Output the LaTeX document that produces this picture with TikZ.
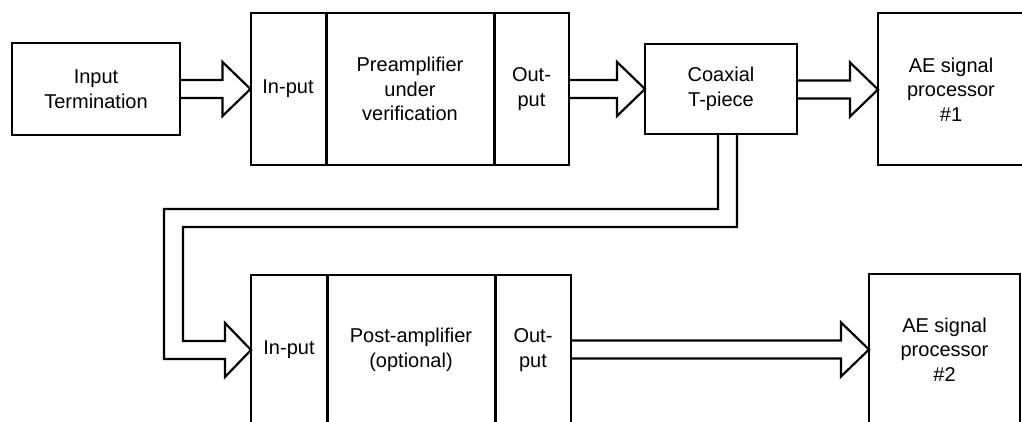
\documentclass[tikz,border=0pt]{standalone}
\usepackage{fontspec}
\setmainfont{Liberation Sans}
\usetikzlibrary{calc}
\tikzset{
  box/.style={draw, line width=2pt, inner sep=0pt, outer sep=0pt, align=center,
    font=\fontsize{20}{24.5}\selectfont},
  divider/.style={line width=3pt},
  pipe/.style={line width=2.2pt, line join=miter},
}
\newcommand\blockarrow[2]{%
  \draw[pipe] ($(#1 |- #2)+(0,-9)$) -- ($(#2)+(-28,-9)$) -- ($(#2)+(-28,-27)$)
    -- (#2) -- ($(#2)+(-28,27)$) -- ($(#2)+(-28,9)$) -- ($(#1 |- #2)+(0,9)$);}
\begin{document}
\begin{tikzpicture}[x=1pt,y=-1pt]
\useasboundingbox (0,0) rectangle (1022,422);
\clip (0,0) rectangle (1022,422);
% top row
\node[box, minimum width=168pt, minimum height=92pt] (it) at (96,89) {Input\\Termination};
\node[box, minimum width=75pt, minimum height=152pt] (prein) at (288,89) {In-put};
\node[box, minimum width=168pt, minimum height=152pt] (premid) at (410,89) {Preamplifier\\under\\verification};
\node[box, minimum width=75pt, minimum height=152pt] (preout) at (531.5,89) {Out-\\put};
\node[box, minimum width=152pt, minimum height=90pt] (tp) at (721,89) {Coaxial\\T-piece};
\node[box, minimum width=146pt, minimum height=152pt] (ae1) at (951,89.5) {AE signal\\processor\\\#1};
\draw[divider] (premid.north west) -- (premid.south west);
\draw[divider] (premid.north east) -- (premid.south east);
% bottom row
\node[box, minimum width=76pt, minimum height=150pt] (postin) at (289,350) {In-put};
\node[box, minimum width=168pt, minimum height=150pt] (postmid) at (411,350) {Post-amplifier\\(optional)};
\node[box, minimum width=76pt, minimum height=150pt] (postout) at (533,350) {Out-\\put};
\node[box, minimum width=151pt, minimum height=151pt] (ae2) at (944.5,349.5) {AE signal\\processor\\\#2};
\draw[divider] (postmid.north west) -- (postmid.south west);
\draw[divider] (postmid.north east) -- (postmid.south east);
% arrows
\blockarrow{it.east}{prein.west}
\blockarrow{preout.east}{tp.west}
\blockarrow{tp.east}{ae1.west}
\blockarrow{postout.east}{ae2.west}
% pipe from T-piece to post-amplifier
\draw[pipe] ([xshift=-3pt]tp.south) |- (164,209) |- ($(postin.west)+(-26,9)$)
  -- ($(postin.west)+(-26,27)$) -- (postin.west) -- ($(postin.west)+(-26,-27)$)
  -- ($(postin.west)+(-26,-9)$) -| (183,227) -| ([xshift=16pt]tp.south);
\end{tikzpicture}
\end{document}
